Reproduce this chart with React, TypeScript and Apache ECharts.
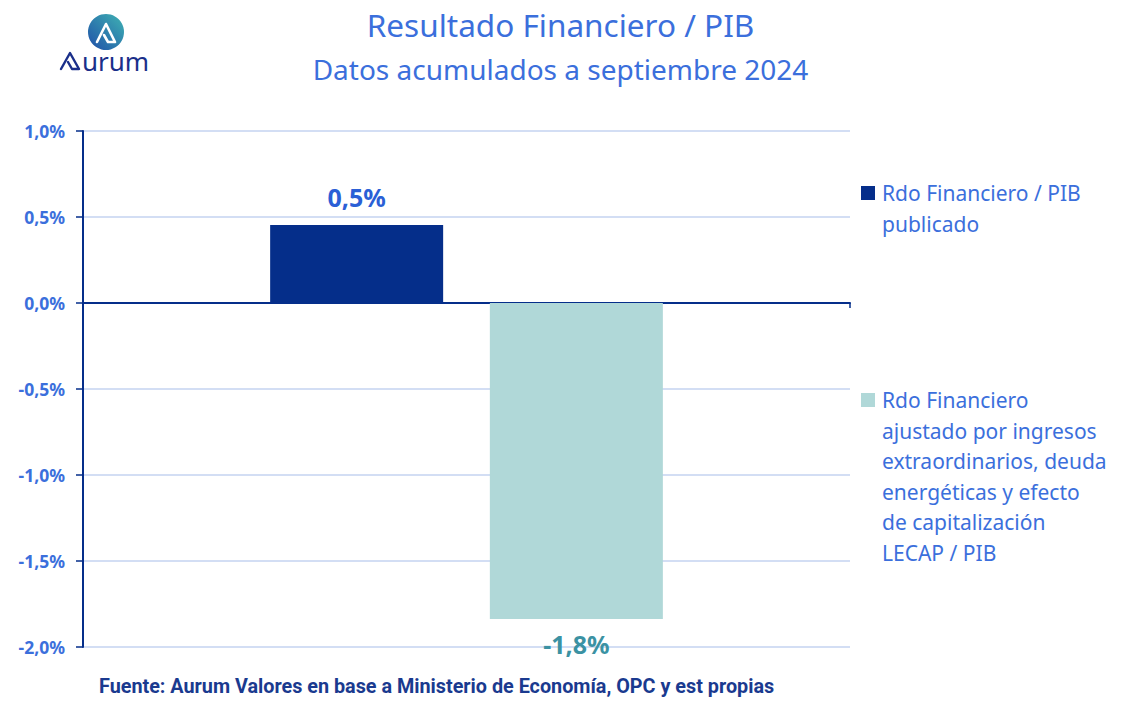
import React, { useEffect, useRef } from "react";
import * as echarts from "echarts";

const categories = ["Resultado"];
const seriesNames = [
  "Rdo Financiero / PIB publicado",
  "Rdo Financiero ajustado por ingresos extraordinarios, deuda energéticas y efecto de capitalización LECAP / PIB",
];
const publishedValues = [0.453];
const adjustedValues = [-1.837];
const legendLines = [
  ["Rdo Financiero / PIB", "publicado"],
  ["Rdo Financiero", "ajustado por ingresos", "extraordinarios, deuda", "energéticas y efecto", "de capitalización", "LECAP / PIB"],
];
const yMin = -2;
const yMax = 1;
const yStep = 0.5;

const fmt = (v: number) => v.toFixed(1).replace(".", ",") + "%";

const BLUE_TEXT = "#3b6fdc";
const NAVY = "#052e8a";
const TEAL = "#b0d8d8";
const FONT = "'Noto Sans', 'Open Sans', sans-serif";

export default function App() {
  const ref = useRef<HTMLDivElement>(null);
  useEffect(() => {
    if (!ref.current) return;
    const chart = echarts.init(ref.current, undefined, { renderer: "svg" });
    const legendGraphics: any[] = [];
    const legendTops = [193, 400];
    const legendColors = [NAVY, TEAL];
    legendLines.forEach((lines, i) => {
      legendGraphics.push({
        type: "rect",
        shape: { x: 861, y: legendTops[i] - 7, width: 14, height: 14 },
        style: { fill: legendColors[i] },
      });
      lines.forEach((ln, j) => {
        legendGraphics.push({
          type: "text",
          x: 882,
          y: legendTops[i] + j * 30.5,
          style: {
            text: ln,
            fill: BLUE_TEXT,
            font: `21px ${FONT}`,
            textVerticalAlign: "middle",
            textAlign: "left",
          },
        });
      });
    });

    const logo: any[] = [
      {
        type: "circle",
        shape: { cx: 106, cy: 32, r: 18 },
        style: {
          fill: new echarts.graphic.LinearGradient(0, 1, 1, 0, [
            { offset: 0, color: "#1f4fa8" },
            { offset: 1, color: "#3fb3b3" },
          ]),
        },
      },
      {
        type: "polyline",
        shape: { points: [[97, 42], [106, 24], [115, 42], [108, 42], [104, 35]] },
        style: { stroke: "#ffffff", lineWidth: 2.6, fill: null, lineJoin: "round", lineCap: "round" },
      },
      {
        type: "polyline",
        shape: { points: [[61, 69], [70, 53], [79, 69], [72, 69], [68, 62]] },
        style: { stroke: "#1a2f8a", lineWidth: 2.4, fill: null, lineJoin: "round", lineCap: "round" },
      },
      {
        type: "text",
        x: 82,
        y: 61,
        style: {
          text: "urum",
          fill: "#1a2f8a",
          font: `26px ${FONT}`,
          textVerticalAlign: "middle",
          textAlign: "left",
        },
      },
    ];

    chart.setOption({
      animation: false,
      backgroundColor: "#ffffff",
      title: [
        {
          text: "Resultado Financiero / PIB",
          left: "center",
          top: 3,
          textStyle: { color: BLUE_TEXT, fontSize: 31.5, fontWeight: "normal", fontFamily: FONT },
        },
        {
          text: "Datos acumulados a septiembre 2024",
          left: "center",
          top: 50,
          textStyle: { color: BLUE_TEXT, fontSize: 28, fontWeight: "normal", fontFamily: FONT },
        },
        {
          text: "Fuente: Aurum Valores en base a Ministerio de Economía, OPC y est propias",
          left: 94,
          top: 671,
          textStyle: { color: "#1a3a8f", fontSize: 19.8, fontWeight: "bold", fontFamily: "Roboto, sans-serif" },
        },
      ],
      grid: { left: 83, right: 271, top: 131, bottom: 77, containLabel: false },
      xAxis: {
        type: "category",
        data: categories,
        position: "bottom",
        axisLine: { show: true, onZero: true, lineStyle: { color: NAVY, width: 2 } },
        axisTick: { show: true, length: 5, lineStyle: { color: NAVY, width: 1.5 } },
        axisLabel: { show: false },
      },
      yAxis: {
        type: "value",
        min: yMin,
        max: yMax,
        interval: yStep,
        axisLine: { show: true, lineStyle: { color: NAVY, width: 2 } },
        axisTick: { show: true, length: 7, lineStyle: { color: NAVY, width: 1.5 } },
        splitLine: { show: true, lineStyle: { color: "#d3def4", width: 2 } },
        axisLabel: {
          formatter: (v: number) => fmt(v),
          color: BLUE_TEXT,
          fontSize: 17.5,
          fontWeight: "bold",
          fontFamily: FONT,
          margin: 18,
        },
      },
      series: [
        {
          name: seriesNames[0],
          type: "bar",
          data: publishedValues,
          barWidth: 173,
          barGap: "27%",
          itemStyle: { color: NAVY },
          label: {
            show: true,
            position: "top",
            distance: 16,
            formatter: (p: any) => fmt(p.value),
            color: "#2b5fd6",
            fontSize: 25,
            fontWeight: "bold",
            fontFamily: FONT,
          },
        },
        {
          name: seriesNames[1],
          type: "bar",
          data: adjustedValues,
          barWidth: 173,
          barGap: "27%",
          itemStyle: { color: TEAL },
          label: {
            show: true,
            position: "bottom",
            distance: 13,
            formatter: (p: any) => fmt(p.value),
            color: "#3b92a3",
            fontSize: 25,
            fontWeight: "bold",
            fontFamily: FONT,
          },
        },
      ],
      graphic: [...legendGraphics, ...logo],
    });
    return () => chart.dispose();
  }, []);
  return (
    <div
      ref={ref}
      style={{ position: "fixed", left: 0, top: 0, width: 1121, height: 724 }}
    />
  );
}
